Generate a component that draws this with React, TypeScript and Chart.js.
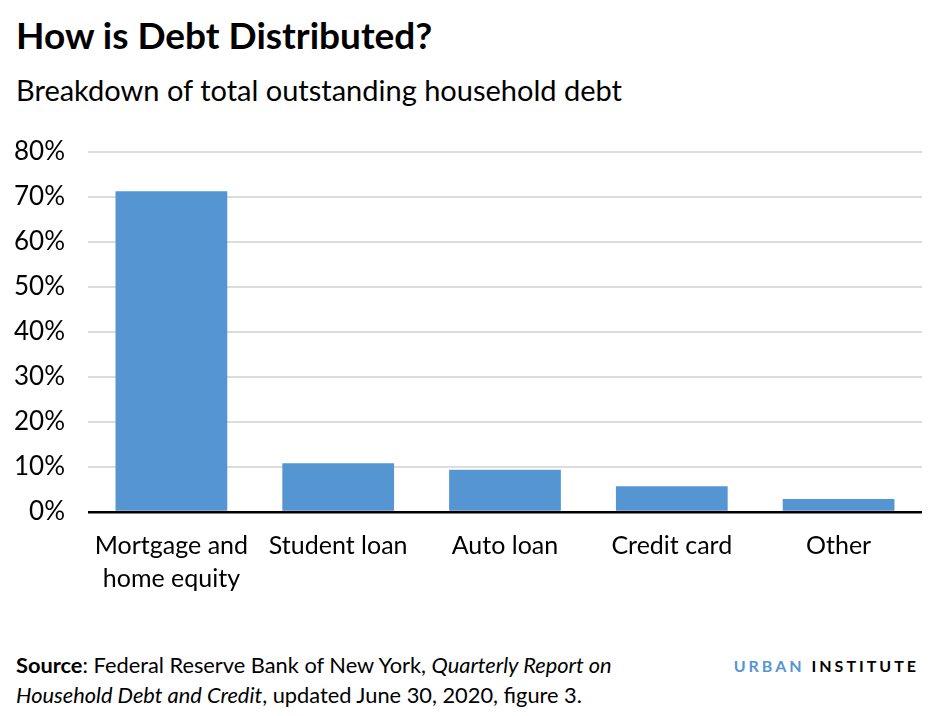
import { useEffect, useRef } from 'react'
import { Chart, registerables } from 'chart.js'
Chart.register(...registerables)

const categories = [['Mortgage and', 'home equity'], 'Student loan', 'Auto loan', 'Credit card', 'Other']
const shares = [71.2, 10.8, 9.4, 5.7, 2.9]
const yTicks = [0, 10, 20, 30, 40, 50, 60, 70, 80]

const FONT = 'Lato, "Open Sans", sans-serif'
const BLUE = '#5596d2'

export default function App() {
    const canvasRef = useRef<HTMLCanvasElement>(null)
    const chartRef = useRef<Chart | null>(null)

    useEffect(() => {
        document.body.style.margin = '0'
        if (!canvasRef.current) return
        chartRef.current?.destroy()
        chartRef.current = new Chart(canvasRef.current, {
            type: 'bar',
            data: {
                labels: categories,
                datasets: [{
                    data: shares,
                    backgroundColor: BLUE,
                    borderWidth: 0,
                    categoryPercentage: 1,
                    barPercentage: 0.67,
                }],
            },
            options: {
                animation: false,
                responsive: false,
                maintainAspectRatio: false,
                layout: { padding: { top: 0, right: 13, left: 0, bottom: 0 } },
                plugins: { legend: { display: false }, tooltip: { enabled: false } },
                scales: {
                    x: {
                        grid: { display: false },
                        border: { display: false },
                        ticks: {
                            color: '#000',
                            padding: 10,
                            maxRotation: 0,
                            autoSkip: false,
                            font: { family: FONT, size: 25, lineHeight: 1.3 },
                        },
                        afterFit: (axis: any) => { axis.height = 100 },
                    },
                    y: {
                        min: 0,
                        max: 80,
                        afterBuildTicks: (axis: any) => { axis.ticks = yTicks.map(v => ({ value: v })) },
                        grid: {
                            drawTicks: false,
                            color: (ctx: any) => ctx.tick && ctx.tick.value === 0 ? '#000' : '#dcdcdc',
                            lineWidth: (ctx: any) => ctx.tick && ctx.tick.value === 0 ? 2.5 : 2,
                        },
                        border: { display: false },
                        ticks: {
                            color: '#000',
                            padding: 23,
                            font: { family: FONT, size: 26 },
                            callback: (v: any) => v + '%',
                        },
                        afterFit: (axis: any) => { axis.width = 88 },
                    },
                },
            },
        })
        return () => chartRef.current?.destroy()
    }, [])

    return (
        <div style={{ position: 'relative', width: 935, height: 716, background: '#fff', fontFamily: FONT, color: '#000' }}>
            <div style={{ position: 'absolute', left: 16, top: 13, fontSize: 37, fontWeight: 700, lineHeight: '44px' }}>
                How is Debt Distributed?
            </div>
            <div style={{ position: 'absolute', left: 16, top: 72, fontSize: 29, lineHeight: '36px' }}>
                Breakdown of total outstanding household debt
            </div>
            <canvas ref={canvasRef} width={935} height={499} style={{ position: 'absolute', left: 0, top: 113, width: 935, height: 499 }} />
            <div style={{ position: 'absolute', left: 16, top: 650, fontSize: 21.8, lineHeight: '30px' }}>
                <div><b>Source</b>: Federal Reserve Bank of New York, <i>Quarterly Report on</i></div>
                <div><i>Household Debt and Credit</i>, updated June 30, 2020, figure 3.</div>
            </div>
            <div style={{ position: 'absolute', right: 16, top: 656, fontSize: 16, fontWeight: 700, letterSpacing: 3 }}>
                <span style={{ color: BLUE }}>URBAN</span> INSTITUTE
            </div>
        </div>
    )
}
